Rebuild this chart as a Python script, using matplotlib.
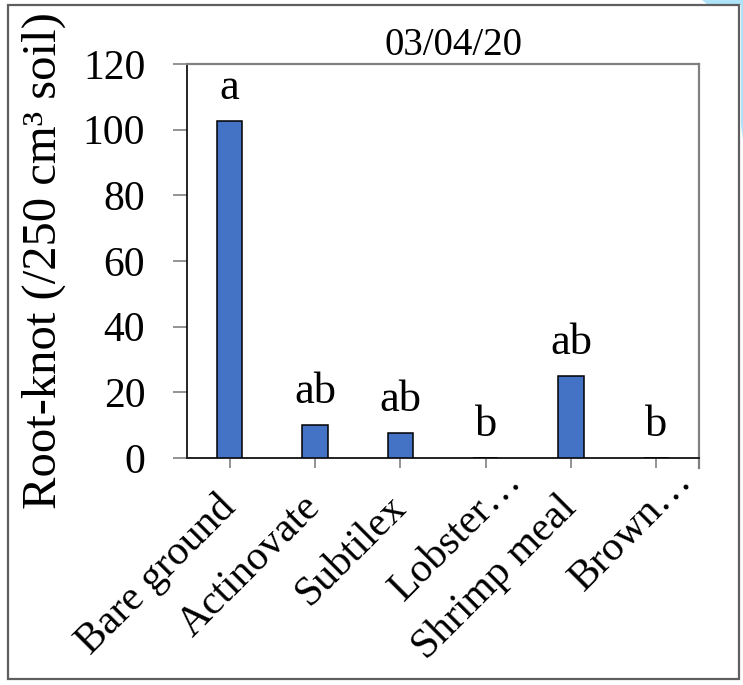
import matplotlib
matplotlib.use("Agg")
import matplotlib.pyplot as plt
from matplotlib.patches import Rectangle, Polygon

# data
treatments = ["Bare ground", "Actinovate", "Subtilex", "Lobster…", "Shrimp meal", "Brown…"]
counts = [102.5, 10, 7.5, 0, 25, 0]
letters = ["a", "ab", "ab", "b", "ab", "b"]
date_title = "03/04/20"
y_ticks = [0, 20, 40, 60, 80, 100, 120]

plt.rcParams['font.family'] = ['Liberation Serif', 'DejaVu Serif']

W, H = 743, 685
fig = plt.figure(figsize=(W / 100, H / 100), dpi=100)

def fx(px):
    return px / W

def fy(py):
    return 1 - py / H

# light blue scrap in the top right corner (background of the source)
fig.patches.append(Polygon([(fx(702), fy(0)), (fx(743), fy(0)), (fx(743), fy(140)),
                            (fx(741), fy(125)), (fx(741), fy(5)), (fx(708), fy(5))],
                           closed=True, transform=fig.transFigure,
                           facecolor='#aee3f8', edgecolor='none', zorder=0))
# outer frame
fig.patches.append(Rectangle((fx(8), fy(679)), fx(739) - fx(8), fy(5) - fy(679),
                             transform=fig.transFigure, fill=False,
                             edgecolor='#5f5f5f', linewidth=1.6, zorder=1))

ax = fig.add_axes([fx(187), fy(458), fx(699) - fx(187), fy(64) - fy(458)])

x = list(range(len(treatments)))
ax.bar(x, counts, width=0.3, color='#4472C4', edgecolor='black', linewidth=1.1, zorder=3)

for xi, v, lt in zip(x, counts, letters):
    ax.annotate(lt, xy=(xi, v), xytext=(0, 22), textcoords='offset pixels',
                ha='center', va='baseline', fontsize=32)

ax.set_xlim(-0.5, len(treatments) - 0.5)
ax.set_ylim(0, 120)
ax.set_yticks(y_ticks)
ax.tick_params(axis='y', direction='out', length=10, width=1.2, color='#808080',
               labelsize=30, pad=20)
ax.set_xticks(x)
ax.set_xticklabels([])
ax.tick_params(axis='x', direction='out', length=7, width=1.2, color='#808080')

# rotated category labels (the truncated ones sit further up the diagonal)
for xi, name in zip(x, treatments):
    if name.endswith('…'):
        off = (30, -17)
    else:
        off = (0, -44)
    ax.annotate(name, xy=(xi, 0), xytext=off, textcoords='offset pixels',
                rotation=45, rotation_mode='anchor', ha='right', va='center',
                fontsize=30, annotation_clip=False)

ax.spines['left'].set_color('black')
ax.spines['left'].set_linewidth(1.2)
ax.spines['bottom'].set_color('#222222')
ax.spines['bottom'].set_linewidth(1.4)
ax.spines['top'].set_color('#808080')
ax.spines['top'].set_linewidth(1.6)
ax.spines['right'].set_color('#808080')
ax.spines['right'].set_linewidth(1.6)
ax.spines['right'].set_bounds(-3.0, 120)

ax.set_ylabel("Root-knot (/250 cm³ soil)", fontsize=35, labelpad=12)
fig.text(fx(453), fy(55), date_title, ha='center', va='baseline', fontsize=28)

fig.savefig("out.png", dpi=100)
